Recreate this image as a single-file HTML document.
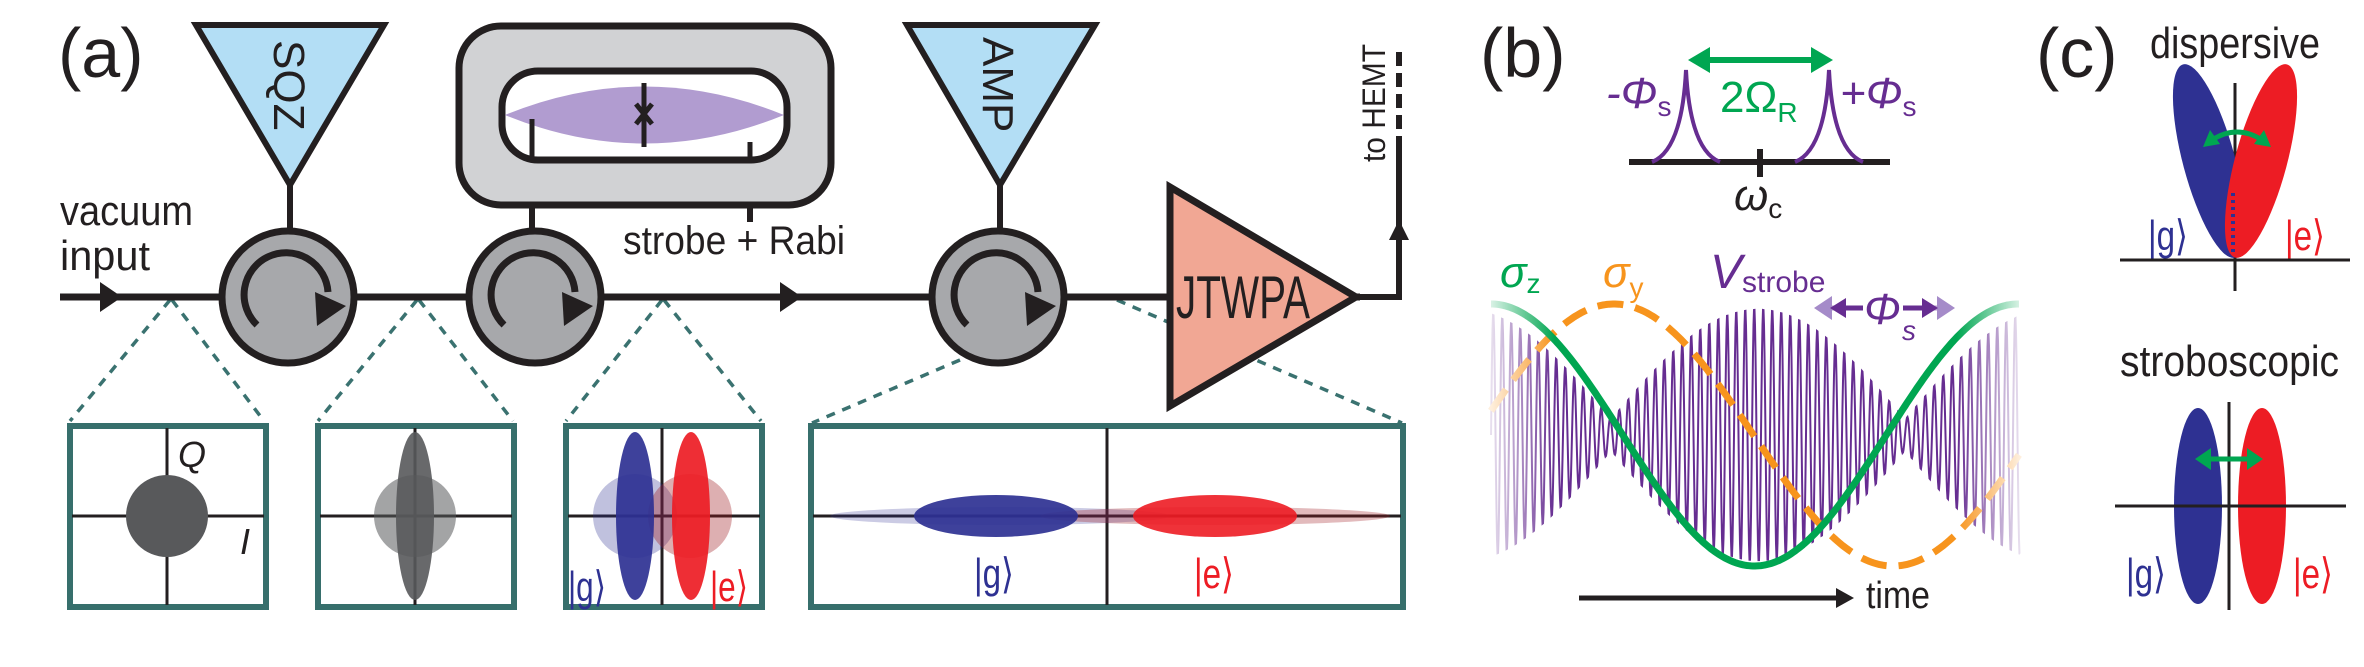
<!DOCTYPE html>
<html><head><meta charset="utf-8"><style>
html,body{margin:0;padding:0;background:#fff}
svg{display:block}
text{font-family:"Liberation Sans",sans-serif}
</style></head><body>
<svg id="s" width="2364" height="667" viewBox="0 0 2364 667" xmlns="http://www.w3.org/2000/svg">
<defs>
<linearGradient id="fadeP" x1="1491" x2="2020" y1="0" y2="0" gradientUnits="userSpaceOnUse">
<stop offset="0" stop-color="#fff" stop-opacity="0.15"/><stop offset="0.12" stop-color="#fff" stop-opacity="1"/><stop offset="0.88" stop-color="#fff" stop-opacity="1"/><stop offset="1" stop-color="#fff" stop-opacity="0.15"/>
</linearGradient>
<mask id="mk" maskUnits="userSpaceOnUse" x="1480" y="280" width="560" height="300"><rect x="1480" y="280" width="560" height="300" fill="url(#fadeP)"/></mask>
<g id="circ">
<circle cx="0" cy="0" r="66" fill="#a7a8ab" stroke="#231f20" stroke-width="7"/>
<path d="M-31,28 A42,42 0 1 1 40,-5" fill="none" stroke="#231f20" stroke-width="7"/>
<polygon points="27,-5 58,9 29,29" fill="#231f20"/>
</g>
</defs>

<g stroke="#3a7270" stroke-width="3.5" stroke-dasharray="9,8" fill="none">
<line x1="170" y1="300" x2="70" y2="421"/><line x1="172" y1="300" x2="264" y2="421"/>
<line x1="417" y1="300" x2="318" y2="421"/><line x1="419" y1="300" x2="513" y2="421"/>
<line x1="662" y1="300" x2="566" y2="421"/><line x1="664" y1="300" x2="761" y2="421"/>
<line x1="960" y1="360" x2="812" y2="423"/><line x1="1117" y1="300" x2="1402" y2="423"/>
</g>

<line x1="60" y1="297" x2="1360" y2="297" stroke="#231f20" stroke-width="7"/>
<polygon points="100,282 122,297 100,312" fill="#231f20"/>
<polygon points="780,282 802,297 780,312" fill="#231f20"/>

<polygon points="196,25 384,25 290,185" fill="#b3def5" stroke="#231f20" stroke-width="6"/>
<text transform="translate(274,40) rotate(90)" font-size="44" fill="#231f20">SQZ</text>
<line x1="290" y1="185" x2="290" y2="232" stroke="#231f20" stroke-width="6"/>
<polygon points="907,25 1095,25 1000,185" fill="#b3def5" stroke="#231f20" stroke-width="6"/>
<text transform="translate(983,37) rotate(90)" font-size="44" fill="#231f20">AMP</text>
<line x1="1000" y1="185" x2="1000" y2="232" stroke="#231f20" stroke-width="6"/>

<rect x="459" y="26" width="372" height="179" rx="42" fill="#d1d2d4" stroke="#231f20" stroke-width="7"/>
<rect x="502" y="71" width="285" height="89" rx="36" fill="#fff" stroke="#231f20" stroke-width="7"/>
<path d="M505,115 Q644,58 784,115 Q644,172 505,115 Z" fill="#b19cd0"/>
<line x1="644" y1="83" x2="644" y2="147" stroke="#231f20" stroke-width="5"/>
<path d="M636,104 L652,124 M652,104 L636,124" stroke="#231f20" stroke-width="5"/>
<line x1="532" y1="119" x2="532" y2="160" stroke="#231f20" stroke-width="5"/>
<line x1="750" y1="142" x2="750" y2="160" stroke="#231f20" stroke-width="5"/>
<line x1="532" y1="205" x2="532" y2="232" stroke="#231f20" stroke-width="6"/>
<line x1="750" y1="205" x2="750" y2="222" stroke="#231f20" stroke-width="6"/>
<text x="623" y="254" font-size="40" fill="#231f20" textLength="222" lengthAdjust="spacingAndGlyphs">strobe + Rabi</text>
<text x="60" y="225" font-size="42" fill="#231f20" textLength="133" lengthAdjust="spacingAndGlyphs">vacuum</text>
<text x="60" y="270" font-size="42" fill="#231f20" textLength="90" lengthAdjust="spacingAndGlyphs">input</text>
<text x="58" y="77" font-size="70" fill="#231f20">(a)</text>

<use href="#circ" x="288" y="297"/>
<use href="#circ" x="535" y="297"/>
<use href="#circ" x="998" y="297"/>

<polygon points="1170,187 1356,297 1170,406" fill="#f1a794" stroke="#231f20" stroke-width="7"/>
<text x="1176" y="318" font-size="60" fill="#231f20" textLength="134" lengthAdjust="spacingAndGlyphs">JTWPA</text>
<path d="M1356,297 L1399,297 L1399,150" fill="none" stroke="#231f20" stroke-width="6"/>
<line x1="1399" y1="150" x2="1399" y2="51" stroke="#231f20" stroke-width="6" stroke-dasharray="14,7"/>
<polygon points="1389,240 1399,220 1409,240" fill="#231f20"/>
<text transform="translate(1385,162) rotate(-90)" font-size="32" fill="#231f20" textLength="118" lengthAdjust="spacingAndGlyphs">to HEMT</text>

<g fill="none" stroke="#376f6c" stroke-width="6">
<rect x="70" y="426" width="196" height="181"/>
<rect x="318" y="426" width="196" height="181"/>
<rect x="566" y="426" width="196" height="181"/>
<rect x="811" y="426" width="592" height="181"/>
</g>
<g stroke="#231f20" stroke-width="3">
<line x1="72" y1="516" x2="264" y2="516"/><line x1="167" y1="428" x2="167" y2="605"/>
<line x1="320" y1="516" x2="512" y2="516"/><line x1="415" y1="428" x2="415" y2="605"/>
<line x1="568" y1="516" x2="760" y2="516"/><line x1="662" y1="428" x2="662" y2="605"/>
<line x1="813" y1="516" x2="1401" y2="516"/><line x1="1107" y1="428" x2="1107" y2="605"/>
</g>
<circle cx="167" cy="516" r="41" fill="#58595b"/>
<text x="178" y="467" font-size="36" font-style="italic" fill="#231f20">Q</text>
<text x="240" y="554" font-size="36" font-style="italic" fill="#231f20">I</text>
<circle cx="415" cy="516" r="41" fill="#58595b" opacity="0.55"/>
<ellipse cx="415" cy="516" rx="19" ry="84" fill="#58595b" opacity="0.9"/>
<circle cx="635" cy="516" r="42" fill="#2e3192" opacity="0.3"/>
<circle cx="690" cy="516" r="42" fill="#9e1a20" opacity="0.35"/>
<ellipse cx="635" cy="516" rx="19" ry="84" fill="#2e3192" opacity="0.92"/>
<ellipse cx="691" cy="516" rx="19" ry="84" fill="#ed1c24" opacity="0.92"/>
<text x="568" y="601" font-size="42" fill="#2e3192" textLength="38" lengthAdjust="spacingAndGlyphs">|g⟩</text>
<text x="710" y="601" font-size="42" fill="#ed1c24" textLength="38" lengthAdjust="spacingAndGlyphs">|e⟩</text>
<ellipse cx="1000" cy="516" rx="170" ry="9" fill="#2e3192" opacity="0.25"/>
<ellipse cx="1215" cy="516" rx="175" ry="9" fill="#9e1a20" opacity="0.3"/>
<ellipse cx="996" cy="516" rx="82" ry="21" fill="#2e3192" opacity="0.92"/>
<ellipse cx="1215" cy="516" rx="82" ry="21" fill="#ed1c24" opacity="0.9"/>
<text x="974" y="588" font-size="42" fill="#2e3192" textLength="40" lengthAdjust="spacingAndGlyphs">|g⟩</text>
<text x="1194" y="588" font-size="42" fill="#ed1c24" textLength="40" lengthAdjust="spacingAndGlyphs">|e⟩</text>

<text x="1480" y="77" font-size="70" fill="#231f20">(b)</text>
<line x1="1629" y1="162" x2="1890" y2="162" stroke="#231f20" stroke-width="6"/>
<line x1="1760" y1="149" x2="1760" y2="177" stroke="#231f20" stroke-width="6"/>
<path d="M1652,162 Q1682,150 1686,70 Q1690,150 1720,162 M1795,162 Q1825,150 1829,70 Q1833,150 1863,162" fill="none" stroke="#662d91" stroke-width="4"/>
<line x1="1705" y1="60" x2="1816" y2="60" stroke="#00a651" stroke-width="6"/>
<polygon points="1688,60 1710,47 1710,73" fill="#00a651"/><polygon points="1833,60 1811,47 1811,73" fill="#00a651"/>
<text x="1606" y="108" font-size="44" font-style="italic" fill="#662d91">-Φ<tspan font-size="28" font-style="normal" dy="8">s</tspan></text>
<text x="1720" y="112" font-size="44" fill="#00a651">2Ω<tspan font-size="28" dy="10">R</tspan></text>
<text x="1840" y="108" font-size="44" font-style="italic" fill="#662d91">+Φ<tspan font-size="28" font-style="normal" dy="8">s</tspan></text>
<text x="1734" y="210" font-size="44" font-style="italic" fill="#231f20">ω<tspan font-size="28" font-style="normal" dy="8">c</tspan></text>

<g mask="url(#mk)">
<path id="purp" fill="none" stroke="#662d91" stroke-width="2"/>
<path id="orng" fill="none" stroke="#f7941d" stroke-width="7" stroke-dasharray="26,12"/>
<path id="grn" fill="none" stroke="#00a651" stroke-width="7"/>
</g>
<text x="1500" y="287" font-size="44" font-style="italic" fill="#00a651">σ<tspan font-size="28" font-style="normal" dy="6">z</tspan></text>
<text x="1603" y="287" font-size="44" font-style="italic" fill="#f7941d">σ<tspan font-size="28" font-style="normal" dy="10">y</tspan></text>
<text x="1710" y="288" font-size="48" font-style="italic" fill="#662d91">V<tspan font-size="30" font-style="normal" dy="4">strobe</tspan></text>
<line x1="1830" y1="308" x2="1944" y2="308" stroke="#662d91" stroke-width="5" opacity="0.45"/>
<polygon points="1814,308 1832,296 1832,320" fill="#a58bc9"/><polygon points="1955,308 1937,296 1937,320" fill="#a58bc9"/>
<line x1="1838" y1="308" x2="1930" y2="308" stroke="#662d91" stroke-width="5"/>
<polygon points="1830,308 1846,298 1846,318" fill="#662d91"/><polygon points="1938,308 1922,298 1922,318" fill="#662d91"/>
<rect x="1863" y="290" width="40" height="38" fill="#fff"/>
<text x="1864" y="324" font-size="44" font-style="italic" fill="#662d91">Φ</text>
<text x="1902" y="340" font-size="28" font-style="italic" fill="#662d91">s</text>
<line x1="1579" y1="598" x2="1840" y2="598" stroke="#231f20" stroke-width="5"/>
<polygon points="1836,588 1854,598 1836,608" fill="#231f20"/>
<text x="1866" y="608" font-size="38" fill="#231f20" textLength="64" lengthAdjust="spacingAndGlyphs">time</text>

<text x="2036" y="77" font-size="70" fill="#231f20">(c)</text>
<text x="2150" y="58" font-size="44" fill="#231f20" textLength="170" lengthAdjust="spacingAndGlyphs">dispersive</text>
<line x1="2120" y1="260" x2="2350" y2="260" stroke="#231f20" stroke-width="3"/>
<line x1="2235" y1="83" x2="2235" y2="291" stroke="#231f20" stroke-width="3"/>
<ellipse cx="0" cy="0" rx="26" ry="100" fill="#2e3192" transform="translate(2209,161) rotate(-15)"/>
<ellipse cx="0" cy="0" rx="26" ry="100" fill="#ed1c24" transform="translate(2261,161) rotate(15)"/>
<path d="M2233,193 v60" stroke="#2e3192" stroke-width="4" stroke-dasharray="3,4"/>
<path d="M2212,140 Q2237,124 2262,140" fill="none" stroke="#00a651" stroke-width="5"/>
<polygon points="2203,147 2210,130 2220,144" fill="#00a651"/><polygon points="2271,147 2264,130 2254,144" fill="#00a651"/>
<text x="2148" y="250" font-size="42" fill="#2e3192" textLength="40" lengthAdjust="spacingAndGlyphs">|g⟩</text>
<text x="2285" y="250" font-size="42" fill="#ed1c24" textLength="40" lengthAdjust="spacingAndGlyphs">|e⟩</text>
<text x="2120" y="376" font-size="44" fill="#231f20" textLength="219" lengthAdjust="spacingAndGlyphs">stroboscopic</text>
<ellipse cx="2198" cy="506" rx="24" ry="98" fill="#2e3192"/>
<ellipse cx="2262" cy="506" rx="24" ry="98" fill="#ed1c24"/>
<line x1="2115" y1="506" x2="2346" y2="506" stroke="#231f20" stroke-width="3"/>
<line x1="2229" y1="402" x2="2229" y2="610" stroke="#231f20" stroke-width="3"/>
<line x1="2208" y1="459" x2="2250" y2="459" stroke="#00a651" stroke-width="5"/>
<polygon points="2195,459 2211,448 2211,470" fill="#00a651"/><polygon points="2263,459 2247,448 2247,470" fill="#00a651"/>
<text x="2126" y="588" font-size="42" fill="#2e3192" textLength="40" lengthAdjust="spacingAndGlyphs">|g⟩</text>
<text x="2293" y="588" font-size="42" fill="#ed1c24" textLength="40" lengthAdjust="spacingAndGlyphs">|e⟩</text>
</svg>
<script>
(function(){
var c=435,A=131,x0=1491,x1=2020;
var g="",o="",p="";
for(var x=x0;x<=x1;x+=2){
 var y=c-A*Math.cos(2*Math.PI*(x-1491)/527);
 g+=(x==x0?"M":"L")+x+","+y.toFixed(1)+" ";
 var yo=c-A*Math.cos(2*Math.PI*(x-1614)/558);
 o+=(x==x0?"M":"L")+x+","+yo.toFixed(1)+" ";
}
for(var x=x0;x<=x1;x+=0.5){
 var env=Math.abs(Math.cos(Math.PI*(x-1758)/294));
 env=0.12+0.88*env;
 var y=c-A*0.97*env*Math.sin(2*Math.PI*(x-x0)/9);
 p+=(x==x0?"M":"L")+x+","+y.toFixed(1)+" ";
}
document.getElementById("grn").setAttribute("d",g);
document.getElementById("orng").setAttribute("d",o);
document.getElementById("purp").setAttribute("d",p);
})();
</script>
</body></html>
